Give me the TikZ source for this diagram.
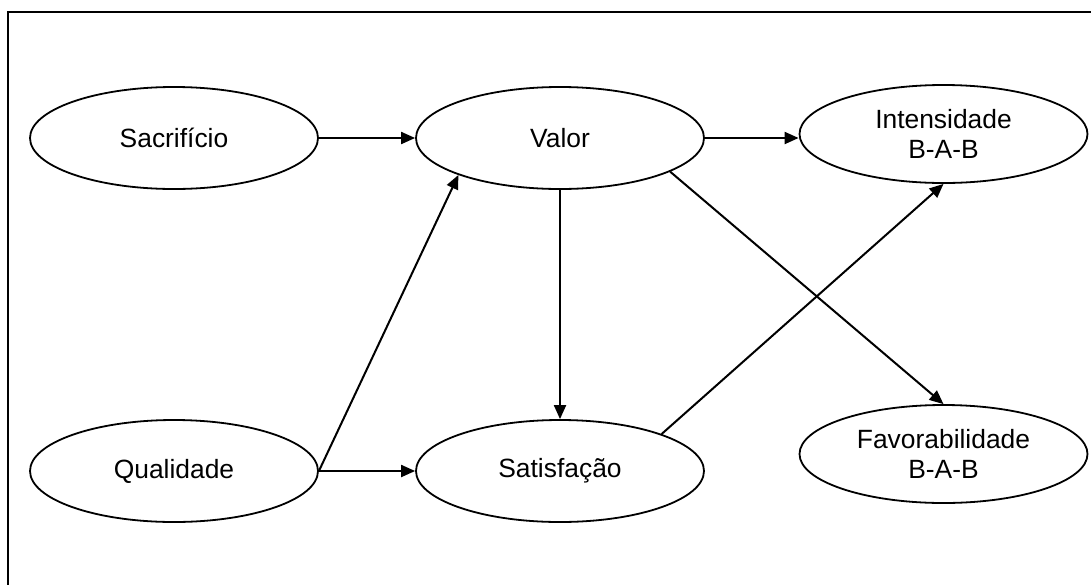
\documentclass[tikz,border=0pt]{standalone}
\usepackage{fontspec}
\setmainfont{Liberation Sans}
\usetikzlibrary{shapes.geometric,arrows.meta}

\begin{document}
\begin{tikzpicture}[x=1pt,y=-1pt,
  construct/.style={ellipse,draw,line width=1.8pt,inner sep=0pt,
    minimum width=288pt,minimum height=102pt,align=center,
    font=\fontsize{26.4}{29.5}\selectfont},
  outcome/.style={construct,minimum height=98pt},
  link/.style={line width=2pt,-{Triangle[length=14pt,width=12pt]}}]
  \useasboundingbox (0,0) rectangle (1091,584);

  % frame (open to the right and bottom)
  \draw[line width=2pt] (1095,12) -- (7.5,12) -- (7.5,590);

  % constructs
  \node[construct] (sac) at (174,138) {Sacrifício};
  \node[construct] (val) at (560,138) {Valor};
  \node[outcome]   (int) at (943.5,134) {Intensidade\\B-A-B};
  \node[construct] (qua) at (174,471) {Qualidade};
  \node[construct] (sat) at (560,471) {Satisfação};
  \node[outcome]   (fav) at (943.5,454) {Favorabilidade\\B-A-B};

  % paths
  \draw[link] (sac.east) -- (val.west);
  \draw[link] (val.east) -- (val.east -| int.west);
  \draw[link] (qua.east) -- (val.-160);
  \draw[link] (qua.east) -- (sat.west);
  \draw[link] (val.south) -- (sat.north);
  \draw[link] (sat.20) -- (int.south);
  \draw[link] (val.-17) -- (fav.north);
\end{tikzpicture}
\end{document}
